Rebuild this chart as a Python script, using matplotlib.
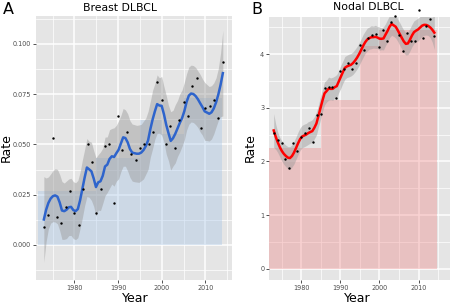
import numpy as np
import matplotlib
matplotlib.use("Agg")
import matplotlib.pyplot as plt
from matplotlib.ticker import MultipleLocator, FixedLocator

# ---- data ----
years = list(range(1973, 2015))

breast_rate = [0.009, 0.015, 0.053, 0.014, 0.011, 0.019, 0.027, 0.016, 0.010, 0.028,
               0.050, 0.041, 0.016, 0.028, 0.049, 0.050, 0.021, 0.064, 0.047, 0.056,
               0.045, 0.042, 0.048, 0.050, 0.050, 0.056, 0.081, 0.072, 0.050, 0.059,
               0.048, 0.062, 0.071, 0.064, 0.079, 0.083, 0.058, 0.068, 0.069, 0.072,
               0.063, 0.091]

nodal_rate = [2.52, 2.40, 2.35, 2.05, 1.88, 2.35, 2.20, 2.45, 2.53, 2.63,
              2.37, 2.86, 2.89, 3.37, 3.39, 3.38, 3.19, 3.68, 3.73, 3.84,
              3.73, 3.84, 4.17, 4.07, 4.30, 4.35, 4.37, 4.14, 4.45, 4.25,
              4.59, 4.70, 4.35, 4.05, 4.39, 4.24, 4.24, 4.82, 4.30, 4.52,
              4.65, 4.33]

# shaded period bars behind the curves
breast_bin_start = [1971.6, 1985, 1995, 2000, 2005]
breast_bin_end = [1985, 1995, 2000, 2005, 2013.8]
breast_bin_rate = [0.027, 0.043, 0.062, 0.055, 0.073]

nodal_bin_start = [1971.6, 1985, 1995, 2000]
nodal_bin_end = [1985, 1995, 2000, 2014.8]
nodal_bin_rate = [2.25, 3.15, 4.15, 4.45]

SPAN = 0.22


def loess(x, y, xs, span):
    """Local quadratic fit with tricube weights, plus a 95% band (like geom_smooth)."""
    x = np.asarray(x, float)
    y = np.asarray(y, float)
    n = len(x)
    q = int(np.floor(n * span))

    def weights_row(x0):
        d = np.abs(x - x0)
        h = np.sort(d)[q - 1]
        u = np.clip(d / h, 0, 1)
        w = (1 - u ** 3) ** 3
        X = np.column_stack([np.ones(n), x - x0, (x - x0) ** 2])
        XtW = X.T * w
        return np.linalg.solve(XtW @ X, XtW)[0]

    L = np.array([weights_row(x0) for x0 in x])
    resid = y - L @ y
    IL = np.eye(n) - L
    delta1 = np.trace(IL.T @ IL)
    sigma = np.sqrt(np.sum(resid ** 2) / delta1)

    Ls = np.array([weights_row(x0) for x0 in xs])
    fit = Ls @ y
    se = sigma * np.sqrt(np.sum(Ls ** 2, axis=1))
    return fit, fit - 2.03 * se, fit + 2.03 * se


def style_panel(ax, xlim, ylim, ymajor, yminor, yfmt):
    ax.set_facecolor("#E5E5E5")
    for s in ax.spines.values():
        s.set_visible(False)
    ax.set_xlim(*xlim)
    ax.set_ylim(*ylim)
    ax.xaxis.set_major_locator(FixedLocator([1980, 1990, 2000, 2010]))
    ax.xaxis.set_minor_locator(FixedLocator([1975, 1985, 1995, 2005, 2015]))
    ax.yaxis.set_major_locator(MultipleLocator(ymajor))
    ax.yaxis.set_minor_locator(MultipleLocator(yminor))
    ax.yaxis.set_major_formatter(plt.FuncFormatter(yfmt))
    ax.grid(which="major", color="white", lw=1.1)
    ax.grid(which="minor", color="white", lw=0.5)
    ax.set_axisbelow(True)
    ax.tick_params(which="major", length=2, width=0.6, color="#333333",
                   labelsize=4.7, labelcolor="#4D4D4D", pad=1.5)
    ax.tick_params(which="minor", length=0)


def draw_panel(ax, rate, bin_start, bin_end, bin_rate, bar_color, line_color):
    widths = [e - s for s, e in zip(bin_start, bin_end)]
    ax.bar(bin_start, bin_rate, width=widths, align="edge",
           color=bar_color, alpha=0.35, lw=0, zorder=1)
    xs = np.linspace(min(years), max(years), 80)
    fit, lo, hi = loess(years, rate, xs, SPAN)
    ax.fill_between(xs, lo, hi, color="#999999", alpha=0.45, lw=0, zorder=2)
    ax.plot(xs, fit, color=line_color, lw=1.8, zorder=3)
    ax.scatter(years, rate, s=3, color="black", lw=0, zorder=4, clip_on=False)


fig = plt.figure(figsize=(4.5, 3.04), dpi=100)

axA = fig.add_axes([36 / 450, 24 / 304, 196 / 450, 264 / 304])
draw_panel(axA, breast_rate, breast_bin_start, breast_bin_end, breast_bin_rate,
           "#9ec0e6", "#2e64cc")
style_panel(axA, (1971.2, 2016.1), (-0.0174, 0.1138), 0.025, 0.0125,
            lambda v, p: f"{v:.3f}")

axB = fig.add_axes([269 / 450, 24 / 304, 181 / 450, 263 / 304])
draw_panel(axB, nodal_rate, nodal_bin_start, nodal_bin_end, nodal_bin_rate,
           "#f08080", "#ff0000")
style_panel(axB, (1971.8, 2018.0), (-0.21, 4.69), 1, 0.5,
            lambda v, p: f"{v:.0f}")

# titles, panel letters and axis titles placed like the reference
fig.text(120 / 450, 1 - 8 / 304, "Breast DLBCL", ha="center", va="center", fontsize=7.8)
fig.text(368 / 450, 1 - 7 / 304, "Nodal DLBCL", ha="center", va="center", fontsize=7.8)
fig.text(8 / 450, 1 - 9 / 304, "A", ha="center", va="center", fontsize=11.5)
fig.text(257 / 450, 1 - 9 / 304, "B", ha="center", va="center", fontsize=11.5)
fig.text(135 / 450, 1 - 298 / 304, "Year", ha="center", va="center", fontsize=9)
fig.text(357 / 450, 1 - 298 / 304, "Year", ha="center", va="center", fontsize=9)
fig.text(6 / 450, 1 - 148 / 304, "Rate", ha="center", va="center", fontsize=9, rotation=90)
fig.text(250 / 450, 1 - 148 / 304, "Rate", ha="center", va="center", fontsize=9, rotation=90)

fig.savefig("out.png", dpi=100)
plt.close(fig)
